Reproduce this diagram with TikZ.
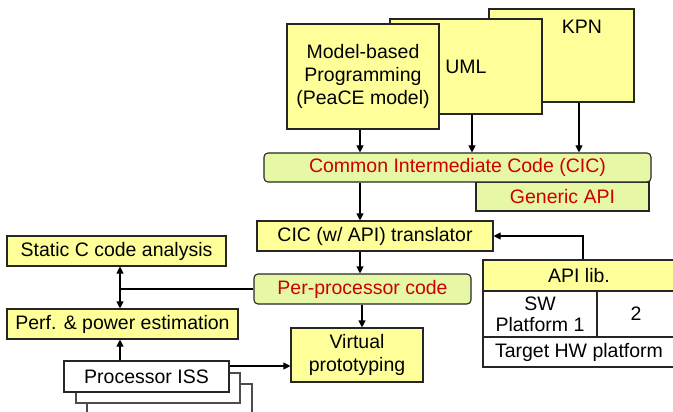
\documentclass[tikz,border=0pt]{standalone}
\usepackage{fontspec}
\setmainfont{Liberation Sans}
\usetikzlibrary{arrows.meta,positioning,calc}
\definecolor{boxyellow}{RGB}{255,255,153}
\definecolor{cicgreen}{RGB}{230,248,166}
\definecolor{cicred}{RGB}{204,0,0}

\begin{document}
\begin{tikzpicture}[x=1pt, y=-1pt,
    box/.style={draw=black!85, line width=1.1pt, fill=boxyellow, inner sep=0pt, align=center, font=\fontsize{19.5}{23}\selectfont},
    cicbox/.style={box, fill=cicgreen, text=cicred, rounded corners=4pt},
    whitebox/.style={box, fill=white},
    shadowbox/.style={draw=black!70, line width=1.1pt, fill=white},
    line/.style={line width=1.1pt},
    arrow/.style={line, -{Triangle[length=7pt,width=7pt]}}
]
\useasboundingbox (0,0) rectangle (673,412);

% Front-end models (stacked)
\node[box, minimum width=145pt, minimum height=93pt] (kpn) at (561.5,55.5) {};
\node[font=\fontsize{19.5}{23}\selectfont] (kpntext) at (582,27) {KPN};
\node[box, minimum width=152pt, minimum height=95pt] (uml) at (466,66.5) {UML};
\node[box, minimum width=152pt, minimum height=105pt] (model) at (363,76.5) {Model-based\\Programming\\(PeaCE model)};

% Common intermediate code
\node[cicbox, rounded corners=0pt, minimum width=173pt, minimum height=29pt] (api) at (562.5,196.5) {Generic API};
\node[cicbox, minimum width=387pt, minimum height=29pt] (cic) at (457.5,167.5) {Common Intermediate Code (CIC)};

\draw[arrow] ([xshift=-3pt]model.south) -- ([xshift=-3pt]model.south |- cic.north);
\draw[arrow] ([xshift=6pt]uml.south) -- ([xshift=6pt]uml.south |- cic.north);
\draw[arrow] ([xshift=17.5pt]kpn.south) -- ([xshift=17.5pt]kpn.south |- cic.north);

% Translator and generated code
\node[box, minimum width=236pt, minimum height=30pt] (trans) at (375,236) {CIC (w/ API) translator};
\node[cicbox, minimum width=217pt, minimum height=30pt] (perproc) at (362.5,289) {Per-processor code};
\node[box, minimum width=132pt, minimum height=54pt] (virtual) at (357,355) {Virtual\\prototyping};

\draw[arrow] (cic.south -| 360,0) -- (trans.north -| 360,0);
\draw[arrow] (trans.south -| 360,0) -- (perproc.north -| 360,0);
\draw[arrow] (perproc.south -| 362,0) -- (virtual.north -| 362,0);

% API library
\node[box, minimum width=192pt, minimum height=31pt] (apilib) at (579,275.5) {API lib.};
\node[whitebox, minimum width=114pt, minimum height=46pt, font=\fontsize{19.5}{21}\selectfont] (swplat) at (540,314) {SW\\Platform 1};
\node[whitebox, minimum width=78pt, minimum height=46pt] (swtwo) at (636,314) {2};
\node[whitebox, minimum width=192pt, minimum height=30pt] (hwplat) at (579,352) {Target HW platform};

\draw[arrow] ([xshift=4pt]apilib.north) |- (trans);

% Analysis side
\node[box, minimum width=219pt, minimum height=30pt] (static) at (116.5,251) {Static C code analysis};
\node[box, minimum width=231pt, minimum height=30pt] (perf) at (122.5,324) {Perf. \& power estimation};
\coordinate (split) at (120,289);

\draw[line] (perproc.west) -- (split);
\draw[arrow] (split) -- (split |- static.south);
\draw[arrow] (split) -- (split |- perf.north);

% Processor ISS
\draw[shadowbox] (87,384) rectangle (252,420);
\draw[shadowbox] (76,373) rectangle (240,403);
\node[whitebox, minimum width=165pt, minimum height=31pt] (iss) at (146.5,376.5) {Processor ISS};

\draw[arrow] (iss.north -| split) -- (perf.south -| split);
\draw[arrow] (iss.east |- 0,366) -- (virtual.west |- 0,366);

\end{tikzpicture}
\end{document}
